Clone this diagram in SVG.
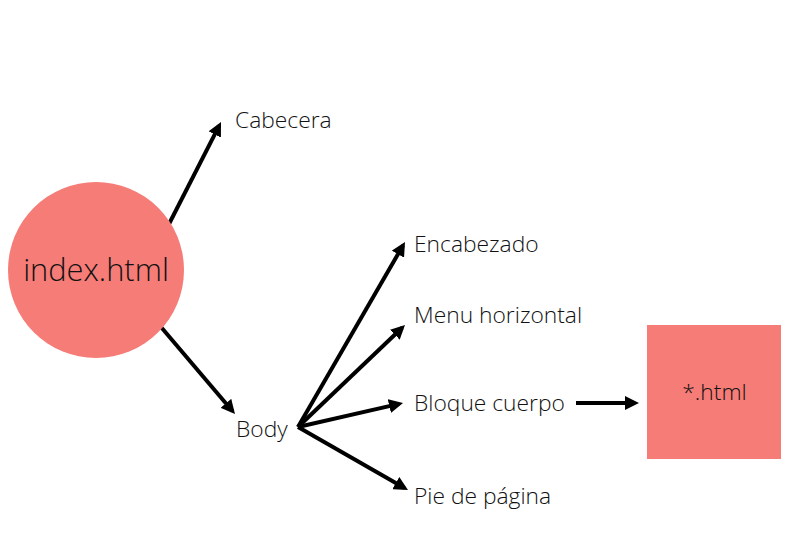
<svg xmlns="http://www.w3.org/2000/svg" width="790" height="537" viewBox="0 0 790 537">
<style>
.lbl{font-family:"Open Sans","Liberation Sans",sans-serif;font-weight:300;fill:#111;font-size:22.8px}
.c{stroke:#000;stroke-width:4;fill:none;stroke-linecap:butt}
</style>
<defs>
<marker id="ah" markerUnits="userSpaceOnUse" markerWidth="15" markerHeight="14" refX="10" refY="7" orient="auto">
<path d="M0,0 L14,7 L0,14 z" fill="#000"/>
</marker>
</defs>
<rect width="790" height="537" fill="#fff"/>
<g id="connectors">
<line class="c" x1="169" y1="224" x2="219.2" y2="125.6" marker-end="url(#ah)"/>
<line class="c" x1="161" y1="327" x2="232.4" y2="411" marker-end="url(#ah)"/>
<line class="c" x1="298" y1="427" x2="403" y2="245.5" marker-end="url(#ah)"/>
<line class="c" x1="298" y1="427" x2="402.1" y2="327.8" marker-end="url(#ah)"/>
<line class="c" x1="298" y1="427" x2="399.1" y2="403.9" marker-end="url(#ah)"/>
<line class="c" x1="298" y1="427" x2="404.5" y2="488" marker-end="url(#ah)"/>
<line class="c" x1="576" y1="403" x2="635" y2="403" marker-end="url(#ah)"/>
</g>
<g id="index">
<circle cx="96" cy="270" r="88" fill="#f67c77"/>
<text class="lbl" x="96" y="281" style="font-size:30.8px" text-anchor="middle">index.html</text>
</g>
<g id="cabecera"><text class="lbl" x="235" y="128">Cabecera</text></g>
<g id="body"><text class="lbl" x="236" y="437">Body</text></g>
<g id="encabezado"><text class="lbl" x="414" y="252">Encabezado</text></g>
<g id="menu"><text class="lbl" x="414" y="323">Menu horizontal</text></g>
<g id="bloque"><text class="lbl" x="414" y="411">Bloque cuerpo</text></g>
<g id="pie"><text class="lbl" x="414" y="504">Pie de página</text></g>
<g id="html">
<rect x="647" y="325" width="134" height="134" fill="#f67c77"/>
<text class="lbl" x="714.5" y="400" text-anchor="middle">*.html</text>
</g>
</svg>
